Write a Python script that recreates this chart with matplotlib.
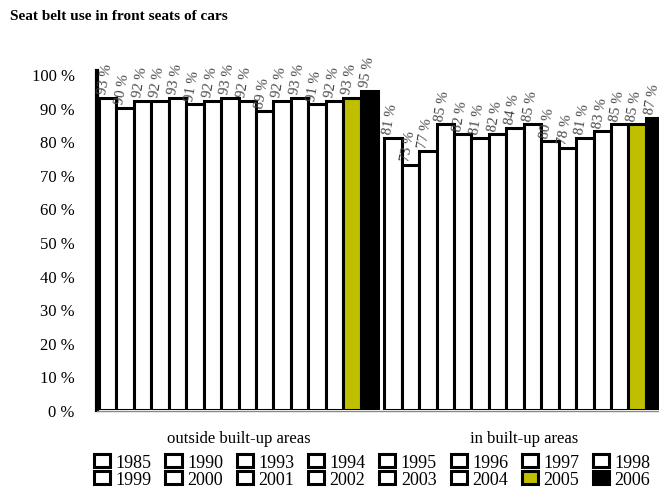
import matplotlib.pyplot as plt
from matplotlib.patches import Patch

plt.rcParams["font.family"] = ["Liberation Serif", "DejaVu Serif"]

years = ['1985', '1990', '1993', '1994', '1995', '1996', '1997', '1998',
         '1999', '2000', '2001', '2002', '2003', '2004', '2005', '2006']
outside = [93, 90, 92, 92, 93, 91, 92, 93, 92, 89, 92, 93, 91, 92, 93, 95]
builtup = [81, 73, 77, 85, 82, 81, 82, 84, 85, 80, 78, 81, 83, 85, 85, 87]
groups = ['outside built-up areas', 'in built-up areas']

fills = ['white'] * 14 + ['#bfbf00', 'black']

fig = plt.figure(figsize=(6.59, 5.02), dpi=100)
ax = fig.add_axes([97 / 659, 91 / 502, 562 / 659, 336 / 502])

group_start = [0, 16.35]
for g, vals in enumerate([outside, builtup]):
    xs = [group_start[g] + i for i in range(len(vals))]
    ax.bar(xs, vals, width=1.0, color=fills, edgecolor='black', linewidth=2.2)
    for x, v in zip(xs, vals):
        ax.text(x - 0.3, v + 1.2, "%d %%" % v, rotation=80, rotation_mode='anchor',
                ha='left', va='center', fontsize=10.5, color='#444444', clip_on=False)
    ax.text(group_start[g] + 7.5, -6.0, groups[g], ha='center', va='top', fontsize=12)

ax.set_xlim(-0.61, 31.6)
ax.set_ylim(0, 100)
ax.set_yticks(range(0, 101, 10))
ax.set_yticklabels(["%d %%" % t for t in range(0, 101, 10)], fontsize=12)
ax.tick_params(axis='y', length=0, pad=16)
ax.set_xticks([])
for s in ['top', 'right']:
    ax.spines[s].set_visible(False)
ax.spines['left'].set_linewidth(3)
ax.spines['left'].set_bounds(0, 101)
ax.spines['bottom'].set_color('#888888')
ax.spines['bottom'].set_linewidth(1)
ax.spines['bottom'].set_position(('outward', 1))

fig.text(0.015, 0.968, 'Seat belt use in front seats of cars', fontsize=11,
         fontweight='bold', ha='left', va='center')

handles = [Patch(facecolor=c, edgecolor='black', linewidth=2.2) for c in fills]
order = []
for c in range(8):
    order += [c, c + 8]
fig.legend([handles[i] for i in order], [years[i] for i in order], ncol=8,
           loc='center', bbox_to_anchor=(0.565, 0.06), frameon=False,
           handlelength=0.9, handleheight=0.75, handletextpad=0.3,
           columnspacing=0.75, labelspacing=0.02, fontsize=13)

fig.savefig('out.png', dpi=100)
